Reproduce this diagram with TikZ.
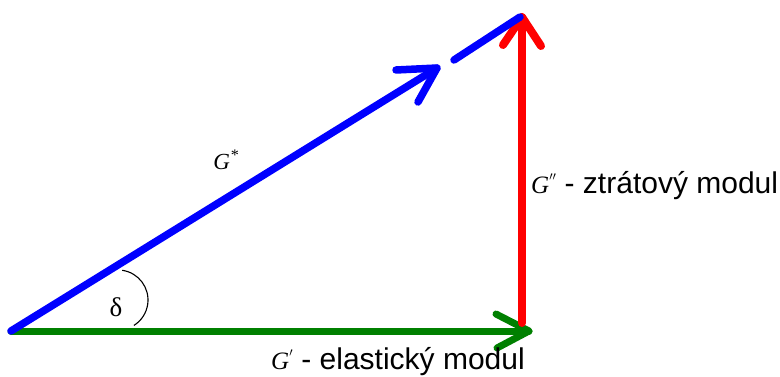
\documentclass[tikz,border=0pt]{standalone}
\usepackage{fontspec}
\setmainfont{Liberation Sans}
\newfontfamily\gserif{Liberation Serif}
\definecolor{vblue}{RGB}{0,0,255}
\definecolor{vred}{RGB}{255,0,0}
\definecolor{vgreen}{RGB}{0,128,0}
\tikzset{
  vec/.style={line width=#1, line cap=round, line join=round},
  lbl/.style={inner sep=0pt, font=\fontsize{30}{30}\selectfont},
  gsym/.style={inner sep=0pt, font=\fontsize{23}{23}\selectfont\gserif\itshape}
}
\begin{document}
\begin{tikzpicture}[x=1pt,y=1pt]
\useasboundingbox (0,0) rectangle (780,376);
% points
\coordinate (O) at (11,45);
\coordinate (B1) at (437,308);
\coordinate (B1a) at (396,306);
\coordinate (B1b) at (418,274);
\coordinate (B2) at (454,316);
\coordinate (T) at (520,359);
\coordinate (R0) at (522,53);
\coordinate (RT) at (522,359);
\coordinate (RTa) at (503,331);
\coordinate (RTb) at (541,330);
\coordinate (GT) at (529,45);
\coordinate (GTa) at (496,62);
\coordinate (GTb) at (497,28);
% green (elastic)
\draw[vgreen, vec=7pt] (O) -- (GT);
\draw[vgreen, vec=7pt] (GTa) -- (GT) -- (GTb);
% red (loss)
\draw[vred, vec=8pt] (R0) -- (RT);
\draw[vred, vec=8pt] (RTa) -- (RT) -- (RTb);
% blue (complex)
\draw[vblue, vec=7.5pt] (O) -- (B1);
\draw[vblue, vec=7.5pt] (B1a) -- (B1) -- (B1b);
\draw[vblue, vec=7.5pt] (B2) -- (T);
% angle arc
\coordinate (AC) at (118,76);
\draw[black, line width=1.1pt] ([shift={(82:30)}]AC) arc[start angle=82, end angle=-58, radius=30];
% labels
\node[gsym] (gs) at (226,216) {G\textsuperscript{*}};
\node[inner sep=0pt, font=\fontsize{27}{27}\selectfont\gserif] (delta) at (116,69) {δ};
\node[lbl, anchor=base west] (loss) at (531,183) {{\gserif\itshape\fontsize{25}{25}\selectfont G}\raisebox{6pt}{\fontsize{18}{18}\selectfont$''$} - ztrátový modul};
\node[lbl, anchor=base east] (elast) at (525,7) {{\gserif\itshape\fontsize{25}{25}\selectfont G}\raisebox{6pt}{\fontsize{18}{18}\selectfont$'$} - elastický modul};
\end{tikzpicture}
\end{document}
